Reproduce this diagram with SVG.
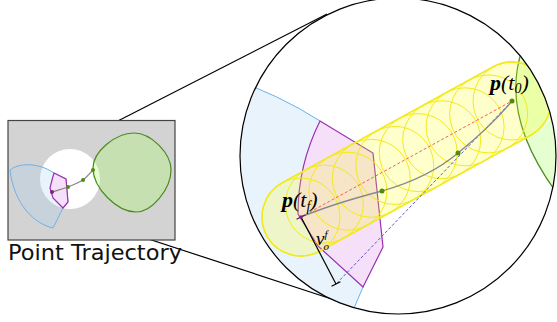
<svg xmlns="http://www.w3.org/2000/svg" width="557" height="322" viewBox="0 0 557 322">
<style>
.blue{fill:rgba(168,208,245,0.25);stroke:#6fb0ea;stroke-width:1}
.green{fill:rgba(170,255,100,0.3);stroke:#4a8a1e;stroke-width:1.2}
.pink{fill:#f5dff9;stroke:#9a30b0;stroke-width:1.2}
.traj{fill:none;stroke:#888;stroke-width:1.3}
.dot{fill:#4d8c0f}
.tan{fill:none;stroke:#000;stroke-width:1.2}
.yc{fill:none;stroke:#f2ea1c;stroke-width:1}
.lbl{font-family:"Liberation Serif","Times New Roman",serif;fill:#000}
</style>
<defs>
<clipPath id="bigclip"><circle cx="398" cy="156" r="158"/></clipPath>
</defs>
<g id="connectors">
<line class="tan" x1="63" y1="149" x2="327" y2="14"/>
<line class="tan" x1="63" y1="211" x2="350" y2="305"/>
</g>
<g id="small-view">
<rect x="8" y="120.5" width="167" height="119.5" fill="#d3d3d3" stroke="#444" stroke-width="1.2"/>
<circle cx="70" cy="179" r="30" fill="#fff"/>
<path class="blue" d="M10,170 C18,163 38,162 54,173 L66,179 L68,202 L63,208 L53,228 C35,224 14,205 10,170 Z"/>
<path class="green" d="M93,168 C93,152 115,133 134,133 C151,133 171,153 171,170 C171,189 152,212 136,212 C117,212 93,188 93,168 Z"/>
<path class="pink" d="M54,173 L66,179 L68,202 L63,208 L53,198 L50,188 L52,180 Z"/>
<path class="traj" d="M52,192 C58,190 63,189 68,187 C73,185 78,183 83,180 C87,177 90,173 93,170"/>
<circle cx="52" cy="192" r="2" fill="#8a1a8a"/>
<circle class="dot" cx="68" cy="187" r="2"/>
<circle class="dot" cx="83" cy="180" r="2"/>
<circle class="dot" cx="93" cy="170" r="2"/>
<text x="8" y="260" font-family="DejaVu Sans, sans-serif" font-size="21" textLength="174" lengthAdjust="spacingAndGlyphs" fill="#111">Point Trajectory</text>
</g>
<g id="big-view">
<circle cx="398" cy="156" r="158" fill="#fff"/>
<g clip-path="url(#bigclip)">
<path fill="rgba(168,208,245,0.25)" d="M225,76 Q280,95 320,121 L373,153 L383,247 L363,287 L349,320 L220,330 Z"/>
<path fill="none" stroke="#6fb0ea" stroke-width="1" d="M225,76 Q280,95 320,121 M363,287 L349,320"/>
<path class="green" d="M522,50 Q500,115 556,192 L600,192 L600,50 Z"/>
<path class="pink" d="M320,121 L373,153 L383,247 L363,287 L318,246 L298,214 Q298,165 320,121 Z"/>
<g id="capsule">
<path d="M282.2,182.8 L493.2,66.8 A39,39 0 0 1 530.8,135.2 L319.8,251.2 A39,39 0 0 1 282.2,182.8 Z" fill="rgba(255,255,0,0.2)" stroke="#f2ea1c" stroke-width="1.6"/>
<circle class="yc" cx="301" cy="217" r="39"/>
<circle class="yc" cx="324.4" cy="204.1" r="39"/>
<circle class="yc" cx="347.9" cy="191.2" r="39"/>
<circle class="yc" cx="371.3" cy="178.3" r="39"/>
<circle class="yc" cx="394.8" cy="165.4" r="39"/>
<circle class="yc" cx="418.2" cy="152.6" r="39"/>
<circle class="yc" cx="441.7" cy="139.7" r="39"/>
<circle class="yc" cx="465.1" cy="126.8" r="39"/>
<circle class="yc" cx="488.6" cy="113.9" r="39"/>
<circle class="yc" cx="512" cy="101" r="39"/>
</g>
<line x1="301" y1="217" x2="512" y2="101" stroke="#ff5a5a" stroke-width="1" stroke-dasharray="3,2"/>
<line x1="512" y1="101" x2="336" y2="284" stroke="#5a5ac8" stroke-width="1" stroke-dasharray="3,2"/>
<path class="traj" d="M301,217 C330,205 355,198 382,191 C410,183 438,170 458,153 C480,135 498,118 512,101"/>
<line x1="301" y1="217" x2="336" y2="284" stroke="#000" stroke-width="1.2"/>
<line x1="331.6" y1="286.3" x2="340.4" y2="281.7" stroke="#000" stroke-width="1.2"/>
<line x1="296.6" y1="219.3" x2="305.4" y2="214.7" stroke="#5a1060" stroke-width="1.2"/>
<circle cx="301" cy="217" r="1.8" fill="#8a1a8a"/>
<circle class="dot" cx="382" cy="191" r="2.5"/>
<circle class="dot" cx="458" cy="153" r="2.5"/>
<circle class="dot" cx="512" cy="101" r="2.5"/>
</g>
<circle cx="398" cy="156" r="158" fill="none" stroke="#000" stroke-width="1.2"/>
<g id="labels">
<text class="lbl" x="282" y="207" font-size="22"><tspan font-weight="bold" font-style="italic">p</tspan><tspan font-style="italic">(t</tspan><tspan font-style="italic" font-size="14" dy="4">f</tspan><tspan font-style="italic" dy="-4">)</tspan></text>
<text class="lbl" x="490" y="90" font-size="22"><tspan font-weight="bold" font-style="italic">p</tspan><tspan font-style="italic">(t</tspan><tspan font-style="italic" font-size="14" dy="3">0</tspan><tspan font-style="italic" dy="-3">)</tspan></text>
<text class="lbl" x="316" y="245" font-size="19" font-style="italic">ν<tspan font-size="11" dy="-7">f</tspan><tspan font-size="11" dx="-4" dy="12">o</tspan></text>
</g>
</g>
</svg>
